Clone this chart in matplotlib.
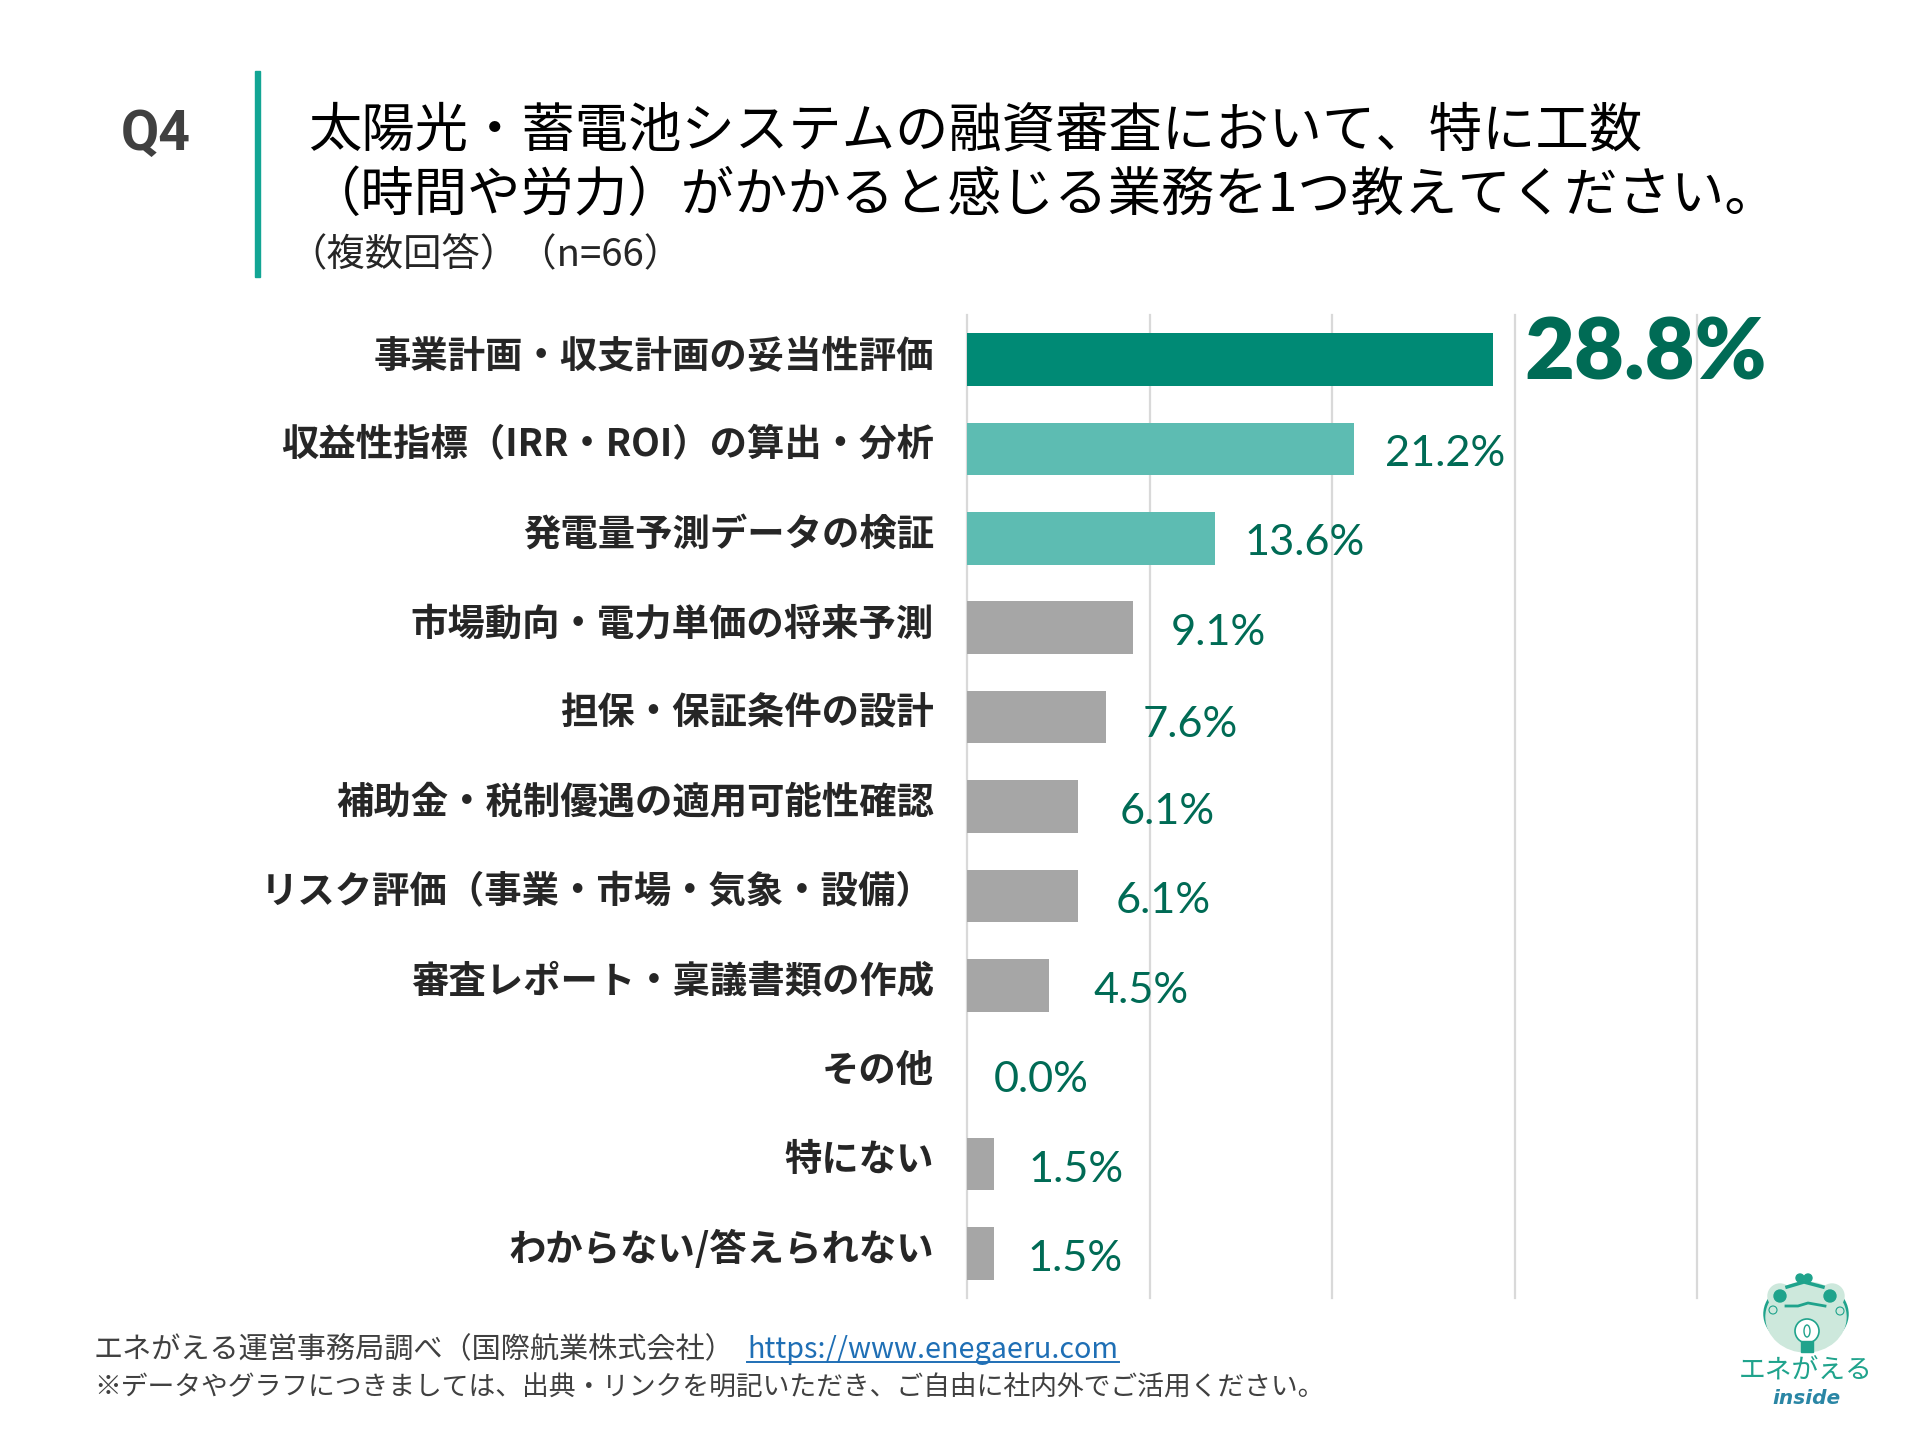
import matplotlib
matplotlib.use("Agg")
import matplotlib.pyplot as plt
from matplotlib.patches import Arc, Circle, Ellipse, Rectangle

plt.rcParams['font.family'] = ['Noto Sans CJK JP', 'DejaVu Sans']

categories = [
    "事業計画・収支計画の妥当性評価",
    "収益性指標（IRR・ROI）の算出・分析",
    "発電量予測データの検証",
    "市場動向・電力単価の将来予測",
    "担保・保証条件の設計",
    "補助金・税制優遇の適用可能性確認",
    "リスク評価（事業・市場・気象・設備）",
    "審査レポート・稟議書類の作成",
    "その他",
    "特にない",
    "わからない/答えられない",
]
values = [28.8, 21.2, 13.6, 9.1, 7.6, 6.1, 6.1, 4.5, 0.0, 1.5, 1.5]
value_labels = ["28.8%", "21.2%", "13.6%", "9.1%", "7.6%", "6.1%", "6.1%", "4.5%", "0.0%", "1.5%", "1.5%"]
ticks = [0, 10, 20, 30, 40]

# colours by rank
bar_colors = ["#008A75", "#5DBCB2", "#5DBCB2"] + ["#A6A6A6"] * 8

# hand placed label offsets in the original, pixels from bar end / bar centre
label_dx = [32, 31, 29, 38, 37, 41, 37, 44, 27, 34, 33]
label_dy = [-5, 5, 5, 5, 8, 5, 5, 6, 5, 6, 6]

W, H = 1920, 1440
PT = 0.72  # px to pt at dpi 100

fig = plt.figure(figsize=(W / 100, H / 100), dpi=100, facecolor="white")

#------------------------------------------------------------------------------
# chart
ax = fig.add_axes([967 / W, 1 - 1298 / H, 730 / W, 983 / H])
y_pos = list(range(len(categories)))
ax.barh(y_pos, values, height=0.59, color=bar_colors, zorder=3)
ax.set_xlim(0, 40)
ax.set_ylim(len(categories) - 0.5, -0.5)
ax.set_xticks(ticks)
ax.set_yticks([])
ax.tick_params(axis="x", length=0, labelbottom=False)
ax.grid(axis="x", color="#D9D9D9", linewidth=1.6, zorder=0)
for gl in ax.get_xgridlines():
    gl.set_clip_on(False)
for s in ax.spines.values():
    s.set_visible(False)

for i, (cat, val, lab) in enumerate(zip(categories, values, value_labels)):
    ax.annotate(cat, xy=(0, i), xytext=(-33 * PT, 4 * PT), textcoords="offset points",
                ha="right", va="center", fontsize=26.9, fontweight="bold", color="#262626")
    big = i == 0
    ax.annotate(lab, xy=(val, i), xytext=(label_dx[i] * PT, -label_dy[i] * PT),
                textcoords="offset points", ha="left", va="center",
                family=["Lato", "DejaVu Sans"], fontsize=62 if big else 31.2,
                fontweight="heavy" if big else "normal", color="#006B55", zorder=5)

#------------------------------------------------------------------------------
# header, footer and logo, in pixel coordinates
page = fig.add_axes([0, 0, 1, 1], facecolor="none")
page.set_xlim(0, W)
page.set_ylim(H, 0)
page.axis("off")

page.text(156, 135, "Q4", ha="center", va="center", family=["Roboto", "DejaVu Sans"],
          fontsize=40, fontweight="bold", color="#404040")
page.add_patch(Rectangle((255, 71), 5, 206, color="#12A594"))
page.text(308, 131, "太陽光・蓄電池システムの融資審査において、特に工数",
          ha="left", va="center", fontsize=38.4, color="black")
page.text(308, 195, "（時間や労力）がかかると感じる業務を1つ教えてください。",
          ha="left", va="center", fontsize=38.4, color="black")
page.text(288, 256, "（複数回答）（n=66）", ha="left", va="center", fontsize=27.6, color="#262626")

page.text(94, 1350, "エネがえる運営事務局調べ（国際航業株式会社）", ha="left", va="center",
          fontsize=21, color="#404040")
page.text(747, 1350, "https://www.enegaeru.com", ha="left", va="center",
          fontsize=20.7, color="#1F6FB5")
page.plot([747, 1119], [1362, 1362], color="#1F6FB5", linewidth=1.4)
page.text(94, 1388, "※データやグラフにつきましては、出典・リンクを明記いただき、ご自由に社内外でご活用ください。",
          ha="left", va="center", fontsize=19.3, color="#404040")

logo_green = "#1FA38C"
logo_light = "#CDE8DC"
page.add_patch(Arc((1806, 1314), 82, 64, theta1=140, theta2=220, color=logo_green, linewidth=2.5, zorder=1))
page.add_patch(Arc((1806, 1314), 82, 64, theta1=-40, theta2=40, color=logo_green, linewidth=2.5, zorder=1))
page.add_patch(Ellipse((1806, 1317), 80, 70, color=logo_light, zorder=2))
page.add_patch(Circle((1780, 1296), 12, color=logo_light, zorder=2))
page.add_patch(Circle((1832, 1296), 12, color=logo_light, zorder=2))
page.add_patch(Circle((1780, 1296), 6, color=logo_green, zorder=3))
page.add_patch(Circle((1830, 1296), 6, color=logo_green, zorder=3))
page.add_patch(Circle((1800, 1278), 4, color=logo_green, zorder=3))
page.add_patch(Circle((1808, 1278), 4, color=logo_green, zorder=3))
page.plot([1787, 1804, 1823], [1287, 1282, 1287], color=logo_green, linewidth=2.5, zorder=3)
page.plot([1786, 1798, 1808, 1825], [1306, 1306, 1303, 1306], color=logo_green, linewidth=2, zorder=3)
page.add_patch(Circle((1773, 1310), 4, facecolor="none", edgecolor=logo_green, linewidth=0.8, zorder=3))
page.add_patch(Circle((1840, 1311), 4, facecolor="none", edgecolor=logo_green, linewidth=0.8, zorder=3))
page.add_patch(Circle((1807, 1331), 12, facecolor="white", edgecolor=logo_green, linewidth=1.2, zorder=3))
page.add_patch(Ellipse((1807, 1331), 6, 12, facecolor="none", edgecolor=logo_green, linewidth=1, zorder=4))
page.add_patch(Rectangle((1801, 1341), 12, 11, color=logo_green, zorder=3))
page.text(1806, 1371, "エネがえる", ha="center", va="center", fontsize=19.3, color=logo_green)
page.text(1806, 1398, "inside", ha="center", va="center", family=["DejaVu Sans"],
          fontsize=14.5, fontweight="bold", style="italic", color="#2A86A5")

fig.savefig("out.png", dpi=100)
